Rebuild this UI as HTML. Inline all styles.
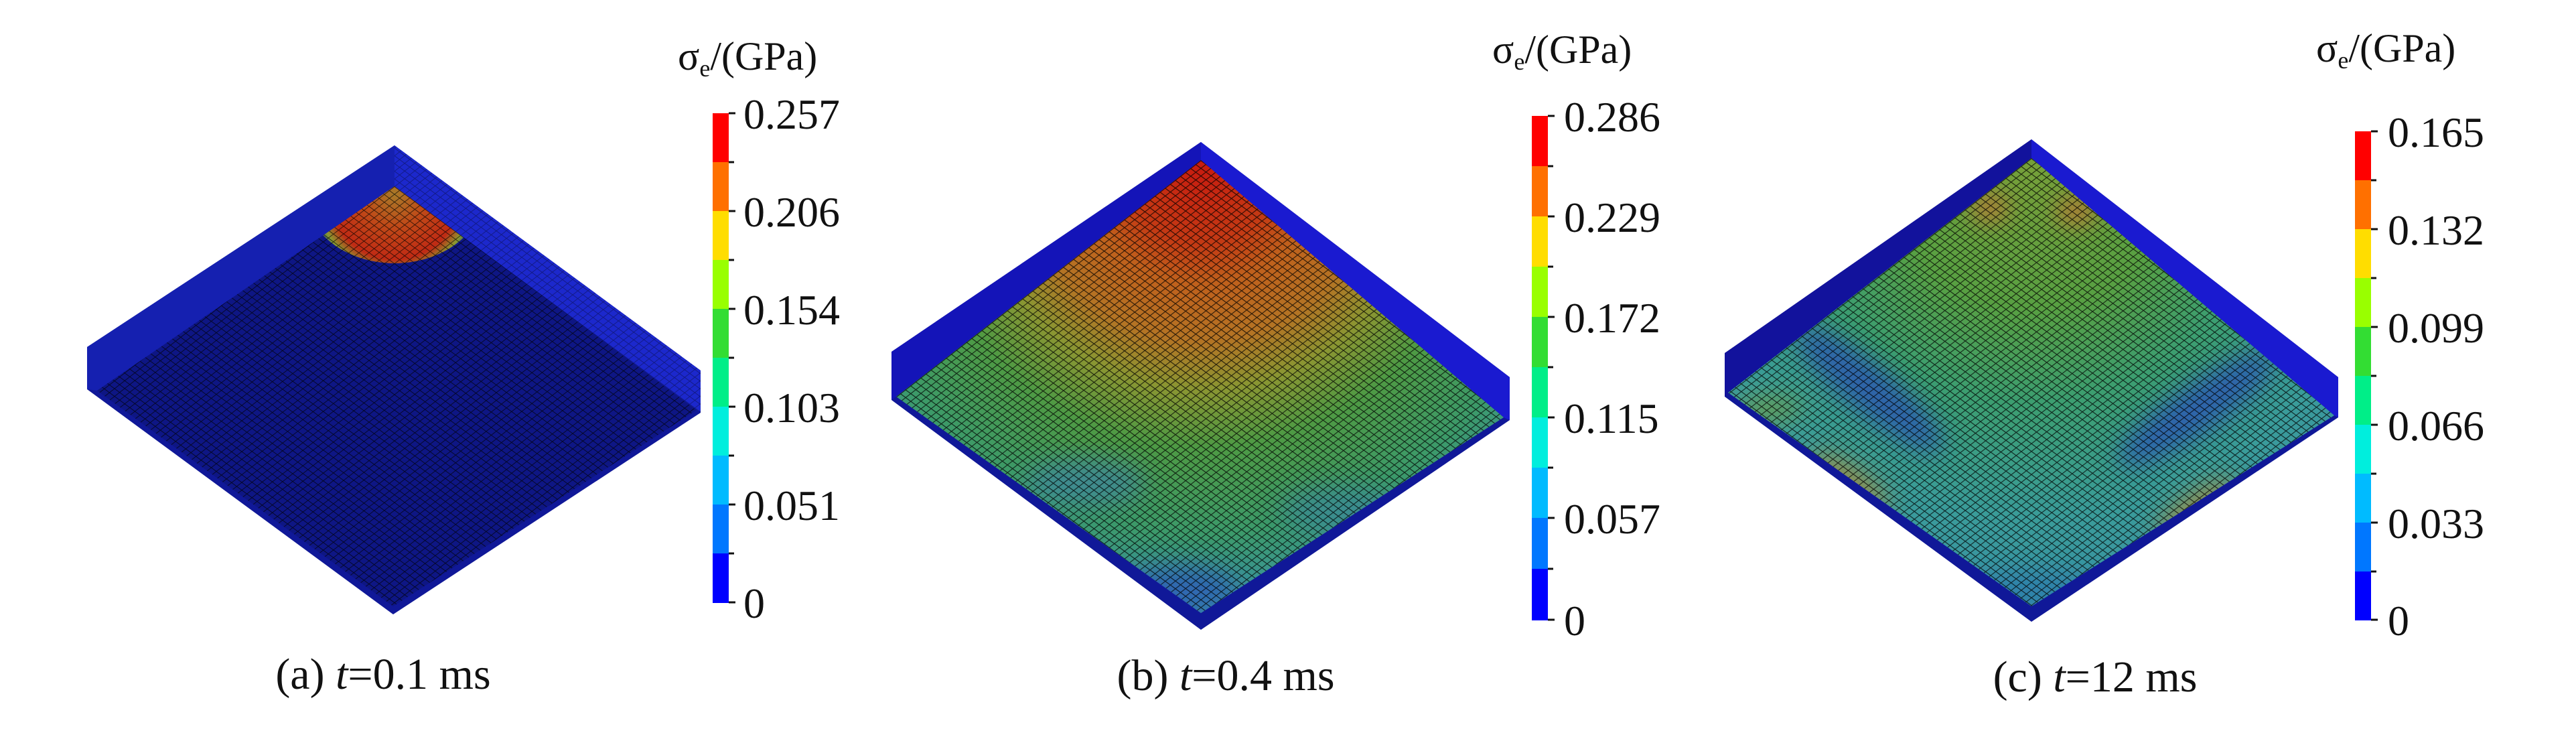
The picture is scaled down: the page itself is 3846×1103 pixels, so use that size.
<!DOCTYPE html>
<html><head><meta charset="utf-8"><style>
html,body{margin:0;padding:0;background:#fff;}
svg{display:block;}
svg text, svg tspan{font-family:"Liberation Serif","Times New Roman","DejaVu Serif",serif !important;}
</style></head><body>
<svg width="3846" height="1103" viewBox="0 0 3846 1103" xmlns="http://www.w3.org/2000/svg">
<defs>
  <pattern id="ga" patternUnits="userSpaceOnUse" width="1" height="1" patternTransform="matrix(7.6 5.6 -7.6 5.9 589 278)">
    <path d="M0 0H1M0 0V1" stroke="#000" stroke-width="0.2" fill="none" opacity="0.7"/>
  </pattern>
  <pattern id="gb" patternUnits="userSpaceOnUse" width="1" height="1" patternTransform="matrix(7.6 5.6 -7.6 5.9 1793 239)">
    <path d="M0 0H1M0 0V1" stroke="#000" stroke-width="0.24" fill="none" opacity="0.75"/>
  </pattern>
  <pattern id="gc" patternUnits="userSpaceOnUse" width="1" height="1" patternTransform="matrix(7.6 5.6 -7.6 5.9 3033 236)">
    <path d="M0 0H1M0 0V1" stroke="#000" stroke-width="0.24" fill="none" opacity="0.75"/>
  </pattern>
  <radialGradient id="rb" gradientUnits="userSpaceOnUse" cx="1793" cy="250" r="720">
    <stop offset="0" stop-color="#c81c10"/>
    <stop offset="0.16" stop-color="#c43a14"/>
    <stop offset="0.24" stop-color="#c0601c"/>
    <stop offset="0.36" stop-color="#b47424"/>
    <stop offset="0.46" stop-color="#8a9632"/>
    <stop offset="0.58" stop-color="#4e9a44"/>
    <stop offset="0.76" stop-color="#3c9a6a"/>
    <stop offset="0.9" stop-color="#3a94a0"/>
    <stop offset="1" stop-color="#3a80b0"/>
  </radialGradient>
  <radialGradient id="rc" gradientUnits="userSpaceOnUse" cx="3033" cy="250" r="700">
    <stop offset="0" stop-color="#76a03a"/>
    <stop offset="0.3" stop-color="#58a042"/>
    <stop offset="0.5" stop-color="#3c9e70"/>
    <stop offset="0.75" stop-color="#3a9c9a"/>
    <stop offset="1" stop-color="#3a90a8"/>
  </radialGradient>
  <radialGradient id="ra" gradientUnits="userSpaceOnUse" cx="589" cy="290" r="135">
    <stop offset="0" stop-color="#a87a28"/>
    <stop offset="0.35" stop-color="#c04a18"/>
    <stop offset="0.72" stop-color="#c02a14"/>
    <stop offset="0.86" stop-color="#8a9a30"/>
    <stop offset="1" stop-color="#40a060" stop-opacity="0"/>
  </radialGradient>
  <filter id="bl"><feGaussianBlur stdDeviation="18"/></filter>
  <clipPath id="cpa"><polygon points="589,278 1040,612 587,905 145,583"/></clipPath>
  <clipPath id="cpc"><polygon points="3033,236 3485,620 3033,905 2580,586"/></clipPath>
  <clipPath id="cpb"><polygon points="1793,239 2245,623 1793,915 1338,592"/></clipPath>
</defs>

<!-- Panel a -->
<polygon points="589,217 1046,553 1046,616 587,917 130,581 130,518" fill="#101898"/>
<polygon points="589,217 1046,553 1046,616 589,278" fill="#1c28cc"/>
<polygon points="589,217 589,278 145,583 130,581 130,518" fill="#1520b0"/>
<polygon points="589,278 1040,612 587,905 145,583" fill="#0e1684"/>
<g clip-path="url(#cpa)">
  <ellipse cx="589" cy="285" rx="135" ry="108" fill="url(#ra)"/>
</g>
<polygon points="589,278 1040,612 587,905 145,583" fill="url(#ga)"/>
<polygon points="589,217 1046,553 1046,616 589,278" fill="url(#ga)" opacity="0.5"/>

<!-- Panel b -->
<polygon points="1793,212 2254,563 2254,627 1793,940 1331,597 1331,525" fill="#101898"/>
<polygon points="1793,212 2254,563 2254,627 2245,623 1793,239" fill="#1a1ad0"/>
<polygon points="1793,212 1793,239 1338,592 1331,597 1331,525" fill="#1414b8"/>
<polygon points="1793,239 2245,623 1793,915 1338,592" fill="url(#rb)"/>
<g clip-path="url(#cpb)" filter="url(#bl)">
  <ellipse cx="1760" cy="880" rx="90" ry="35" fill="#2a5ab8" opacity="0.8"/>
  <ellipse cx="1620" cy="720" rx="90" ry="35" fill="#3a80b0" opacity="0.6"/>
  <ellipse cx="2000" cy="760" rx="90" ry="35" fill="#3a80b0" opacity="0.5"/>
</g>
<polygon points="1793,239 2245,623 1793,915 1338,592" fill="url(#gb)"/>

<!-- Panel c -->
<polygon points="3033,208 3491,563 3491,623 3033,928 2575,592 2575,527" fill="#101898"/>
<polygon points="3033,208 3491,563 3491,623 3485,620 3033,236" fill="#1a1ad0"/>
<polygon points="3033,208 3033,236 2580,586 2575,592 2575,527" fill="#12129c"/>
<polygon points="3033,236 3485,620 3033,905 2580,586" fill="url(#rc)"/>
<g clip-path="url(#cpc)" filter="url(#bl)">
  <ellipse cx="2790" cy="580" rx="140" ry="35" transform="rotate(40 2790 580)" fill="#2a58b0" opacity="0.85"/>
  <ellipse cx="3280" cy="610" rx="140" ry="35" transform="rotate(-35 3280 610)" fill="#2a58b0" opacity="0.85"/>
  <ellipse cx="2970" cy="310" rx="28" ry="20" fill="#c87030" opacity="0.9"/>
  <ellipse cx="3100" cy="315" rx="30" ry="20" fill="#c87030" opacity="0.9"/>
  <ellipse cx="2760" cy="720" rx="70" ry="22" transform="rotate(35 2760 720)" fill="#b08a30" opacity="0.8"/>
  <ellipse cx="3280" cy="760" rx="70" ry="22" transform="rotate(-35 3280 760)" fill="#b08a30" opacity="0.8"/>
  <ellipse cx="2640" cy="610" rx="50" ry="18" fill="#7a9a30" opacity="0.7"/>
  <ellipse cx="3033" cy="880" rx="120" ry="25" fill="#2a70b0" opacity="0.6"/>
</g>
<polygon points="3033,236 3485,620 3033,905 2580,586" fill="url(#gc)"/>

<!-- colorbars -->
<g fill="#111" font-family="Liberation Serif, serif">
  <rect x="1064" y="169" width="24" height="73" fill="#ff0000"/>
  <rect x="1064" y="242" width="24" height="73" fill="#ff7000"/>
  <rect x="1064" y="315" width="24" height="73" fill="#ffdd00"/>
  <rect x="1064" y="388" width="24" height="73" fill="#99ff00"/>
  <rect x="1064" y="461" width="24" height="73" fill="#33dd33"/>
  <rect x="1064" y="534" width="24" height="73" fill="#00ee88"/>
  <rect x="1064" y="607" width="24" height="73" fill="#00eedd"/>
  <rect x="1064" y="680" width="24" height="73" fill="#00bbff"/>
  <rect x="1064" y="753" width="24" height="73" fill="#0077ff"/>
  <rect x="1064" y="826" width="24" height="74" fill="#0000ff"/>
  <path d="M1088 169h10M1088 242h8M1088 315h10M1088 388h8M1088 461h10M1088 534h8M1088 607h10M1088 680h8M1088 753h10M1088 826h8M1088 899h10" stroke="#111" stroke-width="3"/>
  <text x="1110" y="192" font-size="64">0.257</text>
  <text x="1110" y="338" font-size="64">0.206</text>
  <text x="1110" y="484" font-size="64">0.154</text>
  <text x="1110" y="630" font-size="64">0.103</text>
  <text x="1110" y="776" font-size="64">0.051</text>
  <text x="1110" y="922" font-size="64">0</text>
  <text x="1012" y="104" font-size="60">σ<tspan font-size="36" dy="10">e</tspan><tspan dy="-10">/(GPa)</tspan></text>
  <text x="572" y="1028" font-size="66" text-anchor="middle">(a) <tspan font-style="italic">t</tspan>=0.1 ms</text>
</g>

<g fill="#111" font-family="Liberation Serif, serif">
  <rect x="2287" y="173" width="24" height="75" fill="#ff0000"/>
  <rect x="2287" y="248" width="24" height="75" fill="#ff7000"/>
  <rect x="2287" y="323" width="24" height="75" fill="#ffdd00"/>
  <rect x="2287" y="398" width="24" height="75" fill="#99ff00"/>
  <rect x="2287" y="473" width="24" height="75" fill="#33dd33"/>
  <rect x="2287" y="548" width="24" height="75" fill="#00ee88"/>
  <rect x="2287" y="623" width="24" height="75" fill="#00eedd"/>
  <rect x="2287" y="698" width="24" height="75" fill="#00bbff"/>
  <rect x="2287" y="773" width="24" height="76" fill="#0077ff"/>
  <rect x="2287" y="849" width="24" height="77" fill="#0000ff"/>
  <path d="M2311 173h10M2311 248h8M2311 323h10M2311 398h8M2311 473h10M2311 548h8M2311 623h10M2311 698h8M2311 773h10M2311 849h8M2311 925h10" stroke="#111" stroke-width="3"/>
  <text x="2335" y="196" font-size="64">0.286</text>
  <text x="2335" y="346" font-size="64">0.229</text>
  <text x="2335" y="496" font-size="64">0.172</text>
  <text x="2335" y="646" font-size="64">0.115</text>
  <text x="2335" y="796" font-size="64">0.057</text>
  <text x="2335" y="948" font-size="64">0</text>
  <text x="2228" y="94" font-size="60">σ<tspan font-size="36" dy="10">e</tspan><tspan dy="-10">/(GPa)</tspan></text>
  <text x="1830" y="1030" font-size="66" text-anchor="middle">(b) <tspan font-style="italic">t</tspan>=0.4 ms</text>
</g>

<g fill="#111" font-family="Liberation Serif, serif">
  <rect x="3516" y="196" width="24" height="73" fill="#ff0000"/>
  <rect x="3516" y="269" width="24" height="73" fill="#ff7000"/>
  <rect x="3516" y="342" width="24" height="73" fill="#ffdd00"/>
  <rect x="3516" y="415" width="24" height="73" fill="#99ff00"/>
  <rect x="3516" y="488" width="24" height="73" fill="#33dd33"/>
  <rect x="3516" y="561" width="24" height="73" fill="#00ee88"/>
  <rect x="3516" y="634" width="24" height="73" fill="#00eedd"/>
  <rect x="3516" y="707" width="24" height="73" fill="#00bbff"/>
  <rect x="3516" y="780" width="24" height="73" fill="#0077ff"/>
  <rect x="3516" y="853" width="24" height="73" fill="#0000ff"/>
  <path d="M3540 196h10M3540 269h8M3540 342h10M3540 415h8M3540 488h10M3540 561h8M3540 634h10M3540 707h8M3540 780h10M3540 853h8M3540 925h10" stroke="#111" stroke-width="3"/>
  <text x="3565" y="219" font-size="64">0.165</text>
  <text x="3565" y="365" font-size="64">0.132</text>
  <text x="3565" y="511" font-size="64">0.099</text>
  <text x="3565" y="657" font-size="64">0.066</text>
  <text x="3565" y="803" font-size="64">0.033</text>
  <text x="3565" y="948" font-size="64">0</text>
  <text x="3458" y="92" font-size="60">σ<tspan font-size="36" dy="10">e</tspan><tspan dy="-10">/(GPa)</tspan></text>
  <text x="3128" y="1032" font-size="66" text-anchor="middle">(c) <tspan font-style="italic">t</tspan>=12 ms</text>
</g>
</svg>
</body></html>
